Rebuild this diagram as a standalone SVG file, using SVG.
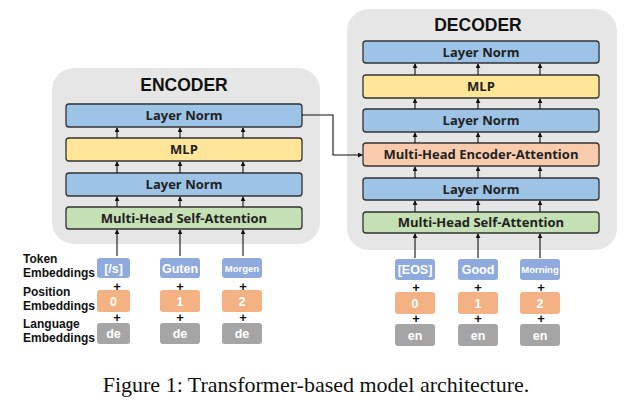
<svg xmlns="http://www.w3.org/2000/svg" width="634" height="403" viewBox="0 0 634 403">
<style>
.cont{fill:#e6e6e6;stroke:none}
.title{font-family:"Liberation Sans",Arial,sans-serif;font-weight:bold;font-size:17.5px;fill:#111;text-anchor:middle}
.box{stroke:#333;stroke-width:1.3}
.ln{fill:#9dc3e6}
.mlp{fill:#ffe699}
.att{fill:#c5e0b4}
.enc{fill:#f8cbad}
.bt{font-family:"Open Sans","Liberation Sans",sans-serif;font-weight:bold;font-size:13px;fill:#222;text-anchor:middle}
.tok{fill:#8faadc}
.pos{fill:#f4b183}
.lang{fill:#a5a5a5}
.et{font-family:"Liberation Sans",Arial,sans-serif;font-weight:bold;font-size:12.5px;fill:#fff;text-anchor:middle}
.lab{font-family:"Liberation Sans",Arial,sans-serif;font-weight:bold;font-size:12px;fill:#111}
.plus{font-family:"Liberation Sans",Arial,sans-serif;font-weight:bold;font-size:13px;fill:#111;text-anchor:middle}
.arr{stroke:#111;stroke-width:1.1;fill:none;marker-end:url(#ah)}
.cap{font-family:"Liberation Serif","Times New Roman",serif;font-size:22px;fill:#111;text-anchor:middle}
</style>
<defs>
<marker id="ah" viewBox="0 0 6 6" refX="5" refY="3" markerWidth="5" markerHeight="5" orient="auto" markerUnits="userSpaceOnUse">
<path d="M0,0 L6,3 L0,6 z" fill="#111"/>
</marker>
</defs>
<rect width="634" height="403" fill="#fff"/>
<g id="encoder">
<rect class="cont" x="52" y="68" width="268" height="176" rx="22"/>
<text class="title" x="184" y="91">ENCODER</text>
</g>
<g id="decoder">
<rect class="cont" x="347" y="9" width="270" height="241" rx="22"/>
<text class="title" x="478" y="31">DECODER</text>
</g>
<g id="enc-ln2"><rect class="box ln" x="66" y="104" width="236" height="23" rx="3"/><text class="bt" x="184" y="120">Layer Norm</text></g>
<g id="enc-mlp"><rect class="box mlp" x="66" y="138" width="236" height="23" rx="3"/><text class="bt" x="184" y="154">MLP</text></g>
<g id="enc-ln1"><rect class="box ln" x="66" y="173" width="236" height="23" rx="3"/><text class="bt" x="184" y="189">Layer Norm</text></g>
<g id="enc-msa"><rect class="box att" x="66" y="207" width="236" height="22" rx="3"/><text class="bt" x="184" y="223">Multi-Head Self-Attention</text></g>
<g id="dec-ln3"><rect class="box ln" x="363" y="41" width="236" height="22" rx="3"/><text class="bt" x="481" y="57">Layer Norm</text></g>
<g id="dec-mlp"><rect class="box mlp" x="363" y="75" width="236" height="23" rx="3"/><text class="bt" x="481" y="91">MLP</text></g>
<g id="dec-ln2"><rect class="box ln" x="363" y="109" width="236" height="23" rx="3"/><text class="bt" x="481" y="125">Layer Norm</text></g>
<g id="dec-eatt"><rect class="box enc" x="363" y="143" width="236" height="23" rx="3"/><text class="bt" x="481" y="159">Multi-Head Encoder-Attention</text></g>
<g id="dec-ln1"><rect class="box ln" x="363" y="178" width="236" height="22" rx="3"/><text class="bt" x="481" y="194">Layer Norm</text></g>
<g id="dec-msa"><rect class="box att" x="363" y="212" width="236" height="21" rx="3"/><text class="bt" x="481" y="227">Multi-Head Self-Attention</text></g>
<g id="labels">
<text class="lab" x="23" y="263">Token</text><text class="lab" x="23" y="277">Embeddings</text>
<text class="lab" x="23" y="296">Position</text><text class="lab" x="23" y="310">Embeddings</text>
<text class="lab" x="23" y="328">Language</text><text class="lab" x="23" y="342">Embeddings</text>
</g>
<g id="enc-tok0"><rect class="tok" x="97" y="258" width="33" height="20" rx="3"/><text class="et" x="113.5" y="273">[/s]</text></g>
<g id="enc-tok1"><rect class="tok" x="160" y="258" width="40" height="20" rx="3"/><text class="et" x="180" y="273">Guten</text></g>
<g id="enc-tok2"><rect class="tok" x="222" y="258" width="40" height="20" rx="3"/><text class="et" x="242" y="272" style="font-size:9.5px">Morgen</text></g>
<g id="enc-pos0"><rect class="pos" x="97" y="290" width="33" height="22" rx="3"/><text class="et" x="113.5" y="305.5">0</text></g>
<g id="enc-pos1"><rect class="pos" x="160" y="290" width="40" height="22" rx="3"/><text class="et" x="180" y="305.5">1</text></g>
<g id="enc-pos2"><rect class="pos" x="222" y="290" width="40" height="22" rx="3"/><text class="et" x="242" y="305.5">2</text></g>
<g id="enc-lang0"><rect class="lang" x="97" y="323" width="33" height="21" rx="3"/><text class="et" x="113.5" y="338">de</text></g>
<g id="enc-lang1"><rect class="lang" x="160" y="323" width="40" height="21" rx="3"/><text class="et" x="180" y="338">de</text></g>
<g id="enc-lang2"><rect class="lang" x="222" y="323" width="40" height="21" rx="3"/><text class="et" x="242" y="338">de</text></g>
<g id="dec-tok0"><rect class="tok" x="395" y="259" width="40" height="21" rx="3"/><text class="et" x="415" y="274">[EOS]</text></g>
<g id="dec-tok1"><rect class="tok" x="458" y="259" width="40" height="21" rx="3"/><text class="et" x="478" y="274">Good</text></g>
<g id="dec-tok2"><rect class="tok" x="520" y="259" width="40" height="21" rx="3"/><text class="et" x="540" y="273" style="font-size:9.5px">Morning</text></g>
<g id="dec-pos0"><rect class="pos" x="395" y="292" width="40" height="22" rx="3"/><text class="et" x="415" y="307.5">0</text></g>
<g id="dec-pos1"><rect class="pos" x="458" y="292" width="40" height="22" rx="3"/><text class="et" x="478" y="307.5">1</text></g>
<g id="dec-pos2"><rect class="pos" x="520" y="292" width="40" height="22" rx="3"/><text class="et" x="540" y="307.5">2</text></g>
<g id="dec-lang0"><rect class="lang" x="395" y="324" width="40" height="22" rx="3"/><text class="et" x="415" y="340">en</text></g>
<g id="dec-lang1"><rect class="lang" x="458" y="324" width="40" height="22" rx="3"/><text class="et" x="478" y="340">en</text></g>
<g id="dec-lang2"><rect class="lang" x="520" y="324" width="40" height="22" rx="3"/><text class="et" x="540" y="340">en</text></g>
<g id="plus">
<text class="plus" x="117" y="291">+</text><text class="plus" x="180" y="291">+</text><text class="plus" x="243" y="291">+</text>
<text class="plus" x="117" y="322">+</text><text class="plus" x="180" y="322">+</text><text class="plus" x="243" y="322">+</text>
<text class="plus" x="416" y="292">+</text><text class="plus" x="478" y="292">+</text><text class="plus" x="541" y="292">+</text>
<text class="plus" x="416" y="323">+</text><text class="plus" x="478" y="323">+</text><text class="plus" x="541" y="323">+</text>
</g>
<g id="connectors">
<path class="arr" d="M117,256V230"/><path class="arr" d="M180,256V230"/><path class="arr" d="M243,256V230"/>
<path class="arr" d="M117,207V197"/><path class="arr" d="M180,207V197"/><path class="arr" d="M243,207V197"/>
<path class="arr" d="M117,173V162"/><path class="arr" d="M180,173V162"/><path class="arr" d="M243,173V162"/>
<path class="arr" d="M117,138V128"/><path class="arr" d="M180,138V128"/><path class="arr" d="M243,138V128"/>
<path class="arr" d="M415,258V234"/><path class="arr" d="M478,258V234"/><path class="arr" d="M540,258V234"/>
<path class="arr" d="M415,212V201"/><path class="arr" d="M478,212V201"/><path class="arr" d="M540,212V201"/>
<path class="arr" d="M415,178V167"/><path class="arr" d="M478,178V167"/><path class="arr" d="M540,178V167"/>
<path class="arr" d="M415,143V133"/><path class="arr" d="M478,143V133"/><path class="arr" d="M540,143V133"/>
<path class="arr" d="M415,109V99"/><path class="arr" d="M478,109V99"/><path class="arr" d="M540,109V99"/>
<path class="arr" d="M415,75V64"/><path class="arr" d="M478,75V64"/><path class="arr" d="M540,75V64"/>
<path class="arr" d="M302,115H333V155H362"/>
</g>
<text class="cap" x="316" y="392">Figure 1: Transformer-based model architecture.</text>
</svg>
